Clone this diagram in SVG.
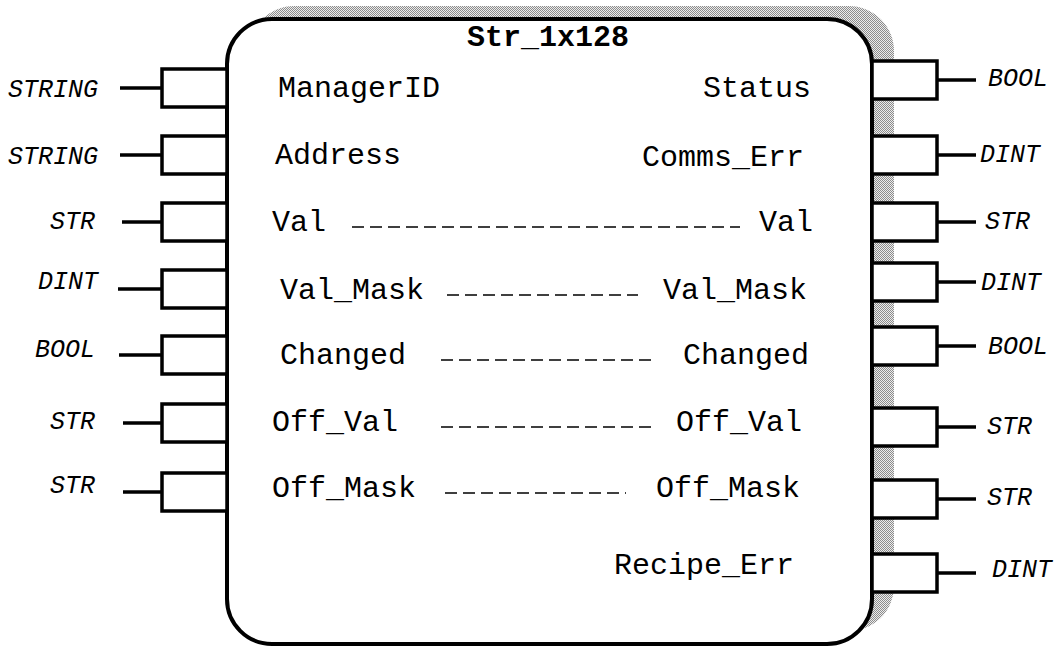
<svg xmlns="http://www.w3.org/2000/svg" width="1058" height="646" viewBox="0 0 1058 646">
  <defs>
    <!-- stippled drop-shadow fill -->
    <pattern id="stipple" width="2" height="2" patternUnits="userSpaceOnUse">
      <rect width="2" height="2" fill="#ececec"/>
      <rect x="0" y="0" width="1" height="1" fill="#8c8c8c"/>
      <rect x="1" y="1" width="1" height="1" fill="#8c8c8c"/>
    </pattern>
    <style>
      .body { fill: #ffffff; stroke: #000000; stroke-width: 4; }
      .shadow { fill: url(#stipple); stroke: none; }
      .pin { fill: #ffffff; stroke: #000000; stroke-width: 3.5; }
      .lead { stroke: #000000; stroke-width: 3.5; fill: none; }
      .pass { stroke: #000000; stroke-width: 1.3; stroke-dasharray: 12 6; fill: none; }
      .param { font-family: "Liberation Mono", "Courier New", monospace; font-size: 30px; fill: #000000; }
      .title { font-family: "Liberation Mono", "Courier New", monospace; font-size: 30px; font-weight: bold; fill: #000000; }
      .type { font-family: "Liberation Mono", "Courier New", monospace; font-size: 25px; font-style: italic; fill: #000000; }
      .r { text-anchor: end; }
    </style>
  </defs>

  <!-- function block body with its shadow -->
  <g id="block">
    <rect class="shadow" x="249" y="6" width="645" height="625" rx="45" ry="45"/>
    <rect class="body" x="227" y="19" width="645" height="625" rx="45" ry="45"/>
    <text class="title" x="548" y="46" text-anchor="middle">Str_1x128</text>
  </g>

  <!-- pin leads and internal pass-through lines -->
  <g id="connectors">
    <line class="lead" x1="120" y1="88" x2="162" y2="88"/>
    <line class="lead" x1="120" y1="155" x2="162" y2="155"/>
    <line class="lead" x1="122" y1="222" x2="162" y2="222"/>
    <line class="lead" x1="118" y1="289" x2="162" y2="289"/>
    <line class="lead" x1="119" y1="355" x2="162" y2="355"/>
    <line class="lead" x1="123" y1="423" x2="162" y2="423"/>
    <line class="lead" x1="123" y1="492" x2="162" y2="492"/>

    <line class="lead" x1="937" y1="80" x2="976" y2="80"/>
    <line class="lead" x1="937" y1="155" x2="976" y2="155"/>
    <line class="lead" x1="937" y1="222" x2="976" y2="222"/>
    <line class="lead" x1="937" y1="282" x2="976" y2="282"/>
    <line class="lead" x1="937" y1="346" x2="976" y2="346"/>
    <line class="lead" x1="937" y1="427" x2="976" y2="427"/>
    <line class="lead" x1="937" y1="499" x2="976" y2="499"/>
    <line class="lead" x1="937" y1="573" x2="976" y2="573"/>

    <line class="pass" x1="352" y1="227" x2="740" y2="227"/>
    <line class="pass" x1="447" y1="295" x2="638" y2="295"/>
    <line class="pass" x1="441" y1="360" x2="652" y2="360"/>
    <line class="pass" x1="441" y1="427" x2="653" y2="427"/>
    <line class="pass" x1="445" y1="493" x2="626" y2="493"/>
  </g>

  <!-- inputs -->
  <g id="in-ManagerID">
    <rect class="pin" x="162" y="69" width="65" height="38"/>
    <text class="type" x="8" y="97">STRING</text>
    <text class="param" x="278" y="97">ManagerID</text>
  </g>
  <g id="in-Address">
    <rect class="pin" x="162" y="136" width="65" height="38"/>
    <text class="type" x="8" y="164">STRING</text>
    <text class="param" x="275" y="164">Address</text>
  </g>
  <g id="in-Val">
    <rect class="pin" x="162" y="203" width="65" height="38"/>
    <text class="type" x="50" y="229">STR</text>
    <text class="param" x="272" y="231">Val</text>
  </g>
  <g id="in-Val_Mask">
    <rect class="pin" x="162" y="270" width="65" height="38"/>
    <text class="type" x="38" y="289">DINT</text>
    <text class="param" x="280" y="299">Val_Mask</text>
  </g>
  <g id="in-Changed">
    <rect class="pin" x="162" y="336" width="65" height="38"/>
    <text class="type" x="35" y="357">BOOL</text>
    <text class="param" x="280" y="364">Changed</text>
  </g>
  <g id="in-Off_Val">
    <rect class="pin" x="162" y="404" width="65" height="38"/>
    <text class="type" x="50" y="429">STR</text>
    <text class="param" x="272" y="431">Off_Val</text>
  </g>
  <g id="in-Off_Mask">
    <rect class="pin" x="162" y="473" width="65" height="38"/>
    <text class="type" x="50" y="493">STR</text>
    <text class="param" x="272" y="497">Off_Mask</text>
  </g>

  <!-- outputs -->
  <g id="out-Status">
    <rect class="pin" x="872" y="61" width="65" height="38"/>
    <text class="type" x="988" y="86">BOOL</text>
    <text class="param r" x="811" y="97">Status</text>
  </g>
  <g id="out-Comms_Err">
    <rect class="pin" x="872" y="136" width="65" height="38"/>
    <text class="type" x="980" y="162">DINT</text>
    <text class="param r" x="804" y="166">Comms_Err</text>
  </g>
  <g id="out-Val">
    <rect class="pin" x="872" y="203" width="65" height="38"/>
    <text class="type" x="985" y="229">STR</text>
    <text class="param r" x="813" y="231">Val</text>
  </g>
  <g id="out-Val_Mask">
    <rect class="pin" x="872" y="263" width="65" height="38"/>
    <text class="type" x="981" y="290">DINT</text>
    <text class="param r" x="807" y="299">Val_Mask</text>
  </g>
  <g id="out-Changed">
    <rect class="pin" x="872" y="327" width="65" height="38"/>
    <text class="type" x="988" y="354">BOOL</text>
    <text class="param r" x="809" y="364">Changed</text>
  </g>
  <g id="out-Off_Val">
    <rect class="pin" x="872" y="408" width="65" height="38"/>
    <text class="type" x="987" y="434">STR</text>
    <text class="param r" x="802" y="431">Off_Val</text>
  </g>
  <g id="out-Off_Mask">
    <rect class="pin" x="872" y="480" width="65" height="38"/>
    <text class="type" x="987" y="505">STR</text>
    <text class="param r" x="800" y="497">Off_Mask</text>
  </g>
  <g id="out-Recipe_Err">
    <rect class="pin" x="872" y="554" width="65" height="38"/>
    <text class="type" x="992" y="577">DINT</text>
    <text class="param r" x="794" y="574">Recipe_Err</text>
  </g>
</svg>
